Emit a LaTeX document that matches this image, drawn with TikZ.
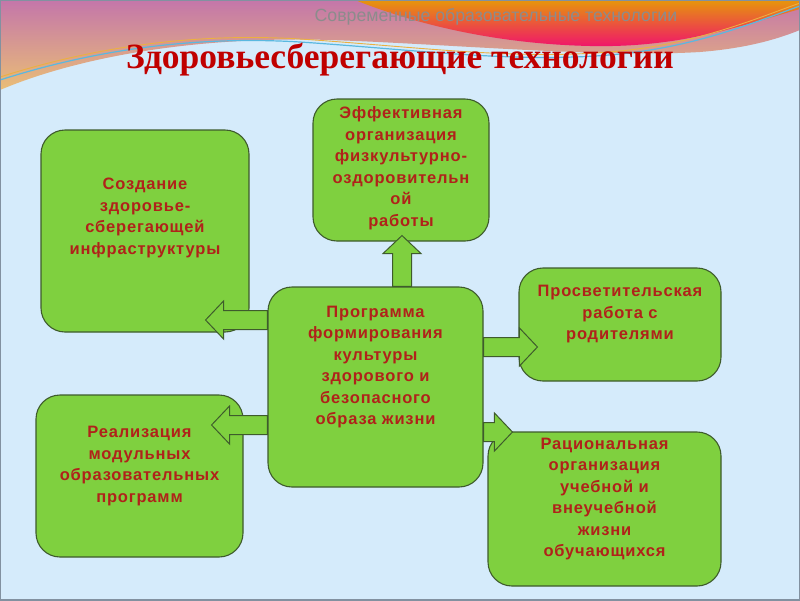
\documentclass[tikz,border=0pt]{standalone}
\usepackage{fontspec}
\setmainfont{Liberation Serif}
\setsansfont{Liberation Sans}
\newfontfamily\boxfont[LetterSpace=5]{Liberation Sans}
\usepackage{xcolor}
\usetikzlibrary{calc, positioning, arrows.meta}

\definecolor{fond}{HTML}{D5EBFB}
\definecolor{vert}{HTML}{7FD03F}
\definecolor{bord}{HTML}{3E5B2C}
\definecolor{texte}{HTML}{B0221A}
\definecolor{titre}{HTML}{C00000}
\definecolor{entete}{HTML}{8C8C8C}

% grosse flèche pleine de #1 vers #2
\newcommand{\grossefleche}[2]{%
  \coordinate (fl-a) at #1;
  \coordinate (fl-b) at #2;
  \coordinate (fl-c) at ($(fl-b)!18pt!(fl-a)$);
  \path[fleche] ($(fl-a)!9.5pt!90:(fl-b)$) -- ($(fl-c)!9.5pt!-90:(fl-a)$) -- ($(fl-c)!19pt!-90:(fl-a)$)
    -- (fl-b) -- ($(fl-c)!19pt!90:(fl-a)$) -- ($(fl-c)!9.5pt!90:(fl-a)$) -- ($(fl-a)!9.5pt!-90:(fl-b)$) -- cycle;
}

\begin{document}
\begin{tikzpicture}[x=1pt, y=-1pt]
    % Styles
    \tikzset{
        boite/.style      = {rectangle, draw=bord, line width=1.1pt, fill=vert, rounded corners=24pt, inner sep=0pt},
        texteboite/.style = {text=texte, align=center, font={\boxfont\bfseries\fontsize{16.5}{21.5}\selectfont}},
        fleche/.style     = {draw=bord, line width=1pt, fill=vert, line join=miter}
    }
    \useasboundingbox (0,0) rectangle (800,600);

    % Fond de la diapositive
    \fill[fond] (0,0) rectangle (800,600);
    \shade[top color={rgb,255:red,196;green,118;blue,170}, bottom color={rgb,255:red,234;green,190;blue,118}]
        (0,0) -- (800,0) -- (800,30) .. controls (780,38) and (750,48) .. (700,52)
        .. controls (600,58) and (450,44) .. (330,40) .. controls (200,36) and (80,56) .. (0,90) -- cycle;
    \shade[top color={rgb,255:red,230;green,150;blue,12}, bottom color={rgb,255:red,240;green,16;blue,110}]
        (355,0) .. controls (420,26) and (500,44) .. (590,46) .. controls (680,48) and (740,26) .. (800,9) -- (800,0) -- cycle;
    \draw[line width=1.2pt, color={rgb,255:red,90;green,184;blue,224}]
        (0,80) .. controls (100,48) and (200,36) .. (300,42) .. controls (420,50) and (520,64) .. (620,54) .. controls (700,46) and (760,20) .. (800,6);
    \draw[line width=0.9pt, color={rgb,255:red,236;green,176;blue,64}]
        (0,77) .. controls (100,45) and (200,33) .. (300,39) .. controls (420,47) and (520,61) .. (620,51) .. controls (700,43) and (760,17) .. (800,3);
    \draw[line width=1.5pt, color={rgb,255:red,130;green,145;blue,160}] (0,0) rectangle (800,600);

    % Titres
    \node[font=\sffamily\fontsize{17.7}{20}\selectfont, text=entete] (entete) at (496,17) {Современные образовательные технологии};
    \node[font=\bfseries\fontsize{35.5}{38}\selectfont, text=titre] (titre) at (400,60) {Здоровьесберегающие технологии};

    % Blocs
    \node[boite, minimum width=176pt, minimum height=142pt,
          label={[texteboite, yshift=2pt]center:Эффективная\\организация\\физкультурно-\\оздоровительн\\ой\\работы}] (eff) at (401,170) {};
    \node[boite, minimum width=208pt, minimum height=202pt,
          label={[texteboite, yshift=13pt]center:Создание\\здоровье-\\сберегающей\\инфраструктуры}] (infra) at (145,231) {};
    \node[boite, minimum width=215pt, minimum height=200pt,
          label={[texteboite, yshift=20pt]center:Программа\\формирования\\культуры\\здорового и\\безопасного\\образа жизни}] (prog) at (375.5,387) {};
    \node[boite, minimum width=202pt, minimum height=113pt,
          label={[texteboite, yshift=10pt]center:Просветительская\\работа с\\родителями}] (parents) at (620,324.5) {};
    \node[boite, minimum width=207pt, minimum height=162pt,
          label={[texteboite, yshift=10pt]center:Реализация\\модульных\\образовательных\\программ}] (modul) at (139.5,476) {};
    \node[boite, minimum width=233pt, minimum height=154pt,
          label={[texteboite, yshift=10pt]center:Рациональная\\организация\\учебной и\\внеучебной\\жизни\\обучающихся}] (ration) at (604.5,509) {};

    % Pointes des flèches
    \coordinate (p-eff) at ($(eff.south)+(1,-6)$);
    \coordinate (p-infra) at ($(infra.east)+(-44,89)$);
    \coordinate (p-modul) at ($(modul.east)+(-32,-51)$);
    \coordinate (p-parents) at ($(parents.west)+(19,22.5)$);
    \coordinate (p-ration) at ($(ration.west)+(25,-77)$);

    % Flèches
    \grossefleche{(p-eff |- prog.north)}{(p-eff)}
    \grossefleche{(prog.west |- p-infra)}{(p-infra)}
    \grossefleche{(prog.west |- p-modul)}{(p-modul)}
    \grossefleche{(prog.east |- p-parents)}{(p-parents)}
    \grossefleche{(prog.east |- p-ration)}{(p-ration)}
\end{tikzpicture}
\end{document}
